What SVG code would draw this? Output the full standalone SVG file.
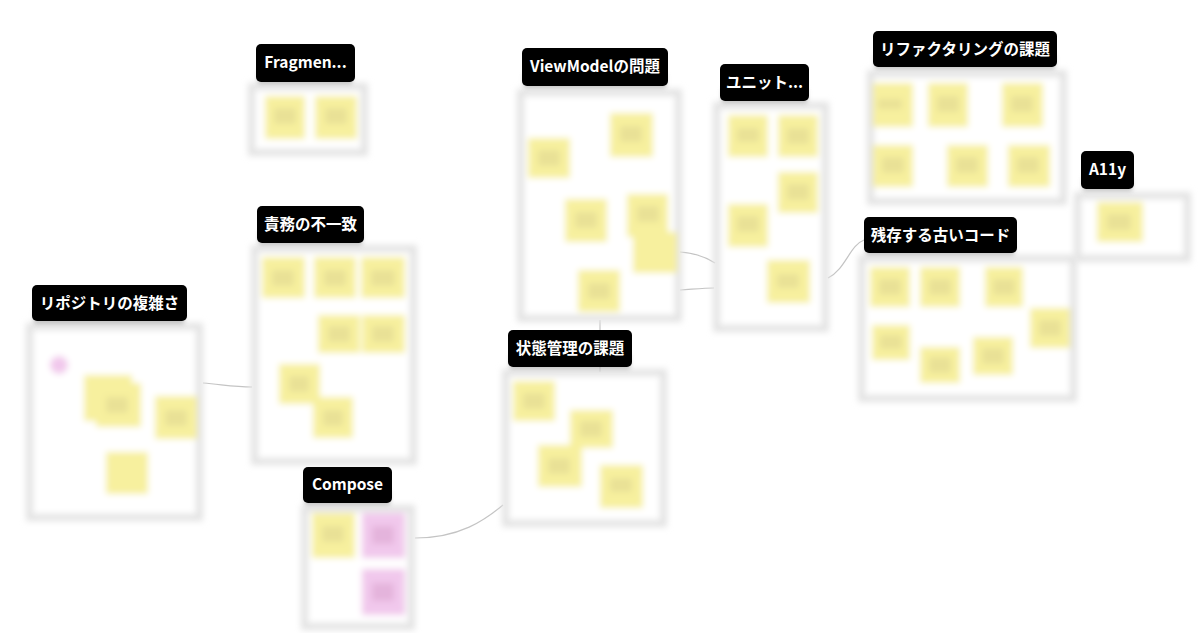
<svg xmlns="http://www.w3.org/2000/svg" width="1200" height="633" viewBox="0 0 1200 633">
<defs>
<filter id="blur" x="-15%" y="-15%" width="130%" height="130%"><feGaussianBlur stdDeviation="3.4"/></filter>
<filter id="sh" x="-20%" y="-50%" width="140%" height="200%"><feGaussianBlur stdDeviation="2.5"/></filter>
<style>
.fo{fill:#e3e3e3}
.fi{fill:#ffffff}
.y{fill:#f7f09e}
.yc{fill:#e9e196}
.p{fill:#f1c8ec}
.pc{fill:#e4b4dc}
.lb{fill:#000000}
.ls{fill:#9a9a9a;opacity:0.6}
.lt{fill:#ffffff;font-family:"Noto Sans CJK JP","Noto Sans",sans-serif;font-weight:bold;font-size:15.5px;text-anchor:middle}
.c{fill:none;stroke:#c4c4c4;stroke-width:1.2}
</style>
</defs>
<rect width="1200" height="633" fill="#ffffff"/>

<g id="connectors">
<path class="c" d="M203,383 C225,385 235,387 252,387"/>
<path class="c" d="M415,538 C460,538 485,520 503,505"/>
<path class="c" d="M600,320 L600,372"/>
<path class="c" d="M680,252 C697,253 707,258 715,263"/>
<path class="c" d="M680,290 C695,289 705,288 714,288"/>
<path class="c" d="M828,278 C845,270 850,245 864,240"/>
</g>

<g id="frame-repo">
<g filter="url(#blur)">
<rect class="fo" x="26" y="323" width="177" height="198"/>
<rect class="fi" x="33" y="330" width="163" height="184"/>
<circle class="p" cx="59" cy="365" r="9"/>
<rect class="y" x="84" y="375" width="48" height="46"/>
<rect class="y" x="96" y="383" width="45" height="44"/>
<rect class="yc" x="106" y="397" width="22" height="16"/>
<rect class="y" x="155" y="396" width="42" height="43"/>
<rect class="yc" x="165" y="410" width="22" height="16"/>
<rect class="y" x="106" y="452" width="42" height="42"/>
</g>
<rect class="ls" x="34" y="310" width="150" height="14" filter="url(#sh)"/>
<rect class="lb" x="32" y="285" width="155" height="36" rx="5"/>
<text class="lt" x="109.5" y="308.5">リポジトリの複雑さ</text>
</g>

<g id="frame-fragment">
<g filter="url(#blur)">
<rect class="fo" x="248" y="83" width="120" height="73"/>
<rect class="fi" x="255" y="90" width="106" height="59"/>
<rect class="y" x="265" y="96" width="40" height="43"/>
<rect class="yc" x="274" y="108" width="22" height="16"/>
<rect class="y" x="315" y="96" width="42" height="43"/>
<rect class="yc" x="325" y="108" width="22" height="16"/>
</g>
<rect class="ls" x="258" y="70" width="94" height="14" filter="url(#sh)"/>
<rect class="lb" x="256" y="44" width="99" height="38" rx="5"/>
<text class="lt" x="305.5" y="68">Fragmen...</text>
</g>

<g id="frame-responsibility">
<g filter="url(#blur)">
<rect class="fo" x="251" y="245" width="166" height="220"/>
<rect class="fi" x="258" y="252" width="152" height="206"/>
<rect class="y" x="262" y="257" width="43" height="41"/>
<rect class="yc" x="272" y="270" width="22" height="16"/>
<rect class="y" x="314" y="257" width="42" height="41"/>
<rect class="yc" x="324" y="270" width="22" height="16"/>
<rect class="y" x="361" y="257" width="44" height="41"/>
<rect class="yc" x="371" y="270" width="24" height="16"/>
<rect class="y" x="318" y="315" width="42" height="38"/>
<rect class="yc" x="328" y="326" width="22" height="16"/>
<rect class="y" x="362" y="315" width="43" height="38"/>
<rect class="yc" x="372" y="326" width="22" height="16"/>
<rect class="y" x="279" y="364" width="41" height="40"/>
<rect class="yc" x="289" y="376" width="20" height="16"/>
<rect class="y" x="313" y="397" width="40" height="41"/>
<rect class="yc" x="323" y="410" width="20" height="16"/>
</g>
<rect class="ls" x="259" y="231" width="103" height="14" filter="url(#sh)"/>
<rect class="lb" x="257" y="206" width="107" height="37" rx="5"/>
<text class="lt" x="310.5" y="230">責務の不一致</text>
</g>

<g id="frame-compose">
<g filter="url(#blur)">
<rect class="fo" x="301" y="505" width="114" height="125"/>
<rect class="fi" x="308" y="512" width="100" height="111"/>
<rect class="y" x="312" y="513" width="43" height="45"/>
<rect class="yc" x="322" y="526" width="22" height="16"/>
<rect class="p" x="362" y="513" width="43" height="45"/>
<rect class="pc" x="372" y="526" width="22" height="18"/>
<rect class="p" x="362" y="569" width="43" height="46"/>
<rect class="pc" x="372" y="583" width="22" height="18"/>
</g>
<rect class="ls" x="305" y="491" width="85" height="14" filter="url(#sh)"/>
<rect class="lb" x="303" y="467" width="89" height="36" rx="5"/>
<text class="lt" x="347.5" y="490">Compose</text>
</g>

<g id="frame-viewmodel">
<g filter="url(#blur)">
<rect class="fo" x="517" y="89" width="165" height="233"/>
<rect class="fi" x="524" y="96" width="151" height="219"/>
<rect class="y" x="528" y="138" width="42" height="40"/>
<rect class="yc" x="538" y="150" width="22" height="16"/>
<rect class="y" x="610" y="113" width="43" height="44"/>
<rect class="yc" x="620" y="126" width="22" height="16"/>
<rect class="y" x="565" y="199" width="42" height="43"/>
<rect class="yc" x="575" y="212" width="22" height="16"/>
<rect class="y" x="627" y="194" width="41" height="43"/>
<rect class="yc" x="637" y="206" width="22" height="16"/>
<rect class="y" x="633" y="232" width="44" height="41"/>
<rect class="y" x="578" y="270" width="42" height="42"/>
<rect class="yc" x="588" y="283" width="22" height="16"/>
</g>
<rect class="ls" x="524" y="74" width="142" height="14" filter="url(#sh)"/>
<rect class="lb" x="522" y="48" width="146" height="38" rx="5"/>
<text class="lt" x="595" y="72">ViewModelの問題</text>
</g>

<g id="frame-unit">
<g filter="url(#blur)">
<rect class="fo" x="713" y="102" width="116" height="230"/>
<rect class="fi" x="720" y="109" width="102" height="216"/>
<rect class="y" x="728" y="115" width="40" height="42"/>
<rect class="yc" x="737" y="128" width="22" height="14"/>
<rect class="y" x="778" y="115" width="40" height="42"/>
<rect class="yc" x="787" y="128" width="22" height="16"/>
<rect class="y" x="778" y="172" width="40" height="41"/>
<rect class="yc" x="787" y="184" width="22" height="16"/>
<rect class="y" x="728" y="204" width="40" height="43"/>
<rect class="yc" x="737" y="216" width="22" height="16"/>
<rect class="y" x="767" y="260" width="43" height="43"/>
<rect class="yc" x="777" y="274" width="22" height="14"/>
</g>
<rect class="ls" x="722" y="89" width="85" height="14" filter="url(#sh)"/>
<rect class="lb" x="720" y="64" width="89" height="37" rx="5"/>
<text class="lt" x="764.5" y="88">ユニット...</text>
</g>

<g id="frame-state">
<g filter="url(#blur)">
<rect class="fo" x="502" y="369" width="165" height="158"/>
<rect class="fi" x="509" y="376" width="151" height="144"/>
<rect class="y" x="513" y="381" width="42" height="40"/>
<rect class="yc" x="523" y="393" width="22" height="16"/>
<rect class="y" x="570" y="410" width="43" height="38"/>
<rect class="yc" x="580" y="421" width="22" height="16"/>
<rect class="y" x="538" y="445" width="44" height="42"/>
<rect class="yc" x="548" y="458" width="22" height="16"/>
<rect class="y" x="600" y="465" width="43" height="43"/>
<rect class="yc" x="610" y="478" width="22" height="14"/>
</g>
<rect class="ls" x="510" y="355" width="120" height="14" filter="url(#sh)"/>
<rect class="lb" x="508" y="330" width="124" height="37" rx="5"/>
<text class="lt" x="570" y="354">状態管理の課題</text>
</g>

<g id="frame-refactoring">
<g filter="url(#blur)">
<rect class="fo" x="867" y="70" width="200" height="135"/>
<rect class="fi" x="874" y="77" width="186" height="121"/>
<rect class="y" x="873" y="83" width="40" height="44"/>
<rect class="yc" x="878" y="99" width="24" height="10"/>
<rect class="y" x="928" y="83" width="40" height="44"/>
<rect class="yc" x="937" y="96" width="22" height="16"/>
<rect class="y" x="1002" y="83" width="41" height="44"/>
<rect class="yc" x="1011" y="96" width="22" height="16"/>
<rect class="y" x="873" y="145" width="40" height="42"/>
<rect class="yc" x="882" y="157" width="22" height="16"/>
<rect class="y" x="947" y="145" width="41" height="42"/>
<rect class="yc" x="956" y="157" width="22" height="16"/>
<rect class="y" x="1008" y="145" width="42" height="42"/>
<rect class="yc" x="1017" y="157" width="22" height="16"/>
</g>
<rect class="ls" x="875" y="55" width="180" height="14" filter="url(#sh)"/>
<rect class="lb" x="873" y="31" width="184" height="36" rx="5"/>
<text class="lt" x="965" y="54.5">リファクタリングの課題</text>
</g>

<g id="frame-legacy">
<g filter="url(#blur)">
<rect class="fo" x="858" y="255" width="219" height="147"/>
<rect class="fi" x="865" y="262" width="205" height="133"/>
<rect class="y" x="870" y="267" width="40" height="40"/>
<rect class="yc" x="879" y="279" width="22" height="16"/>
<rect class="y" x="920" y="267" width="40" height="40"/>
<rect class="yc" x="929" y="279" width="22" height="16"/>
<rect class="y" x="985" y="267" width="38" height="40"/>
<rect class="yc" x="993" y="279" width="22" height="16"/>
<rect class="y" x="1030" y="308" width="40" height="40"/>
<rect class="yc" x="1039" y="320" width="22" height="16"/>
<rect class="y" x="872" y="325" width="38" height="35"/>
<rect class="yc" x="880" y="335" width="22" height="14"/>
<rect class="y" x="920" y="347" width="40" height="36"/>
<rect class="yc" x="929" y="357" width="22" height="16"/>
<rect class="y" x="973" y="337" width="40" height="38"/>
<rect class="yc" x="982" y="348" width="22" height="16"/>
</g>
<rect class="ls" x="866" y="241" width="148" height="14" filter="url(#sh)"/>
<rect class="lb" x="864" y="217" width="153" height="36" rx="5"/>
<text class="lt" x="940.5" y="240.5">残存する古いコード</text>
</g>

<g id="frame-a11y">
<g filter="url(#blur)">
<rect class="fo" x="1074" y="192" width="117" height="70"/>
<rect class="fi" x="1081" y="199" width="103" height="56"/>
<rect class="y" x="1097" y="202" width="46" height="40"/>
<rect class="yc" x="1107" y="214" width="24" height="16"/>
</g>
<rect class="ls" x="1083" y="177" width="49" height="14" filter="url(#sh)"/>
<rect class="lb" x="1081" y="151" width="53" height="38" rx="5"/>
<text class="lt" x="1107.5" y="175">A11y</text>
</g>
</svg>
